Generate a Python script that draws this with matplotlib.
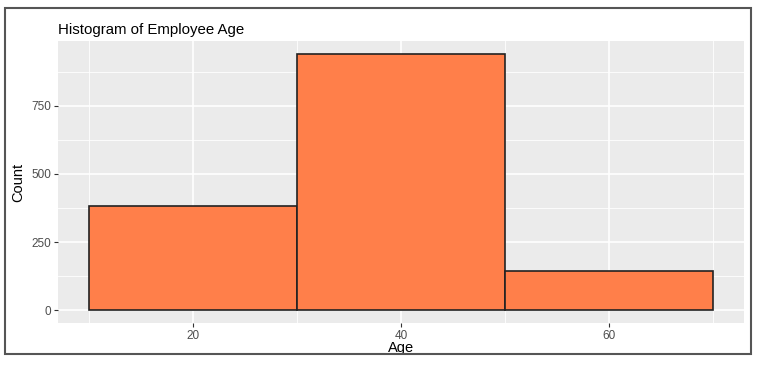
import matplotlib.pyplot as plt
from matplotlib.patches import Rectangle

plt.rcParams['font.family'] = ['Liberation Sans', 'DejaVu Sans']

# Histogram bins (age) and counts
bin_edges = [10, 30, 50, 70]
counts = [384, 940, 143]
x_ticks = [20, 40, 60]
y_ticks = [0, 250, 500, 750]

fig = plt.figure(figsize=(7.57, 3.67), dpi=100)
ax = fig.add_axes([58 / 757, 44 / 367, 686 / 757, 282 / 367])

ax.set_facecolor('#EBEBEB')
lefts = bin_edges[:-1]
widths = [b - a for a, b in zip(bin_edges[:-1], bin_edges[1:])]
ax.bar(lefts, counts, width=widths, align='edge', color='#FF7F4A',
       edgecolor='#222222', linewidth=1.2, zorder=3)

ax.set_xlim(7, 73)
ax.set_ylim(-47, 988)
ax.set_xticks(x_ticks)
ax.set_yticks(y_ticks)
ax.set_xticks([10, 30, 50, 70], minor=True)
ax.set_yticks([125, 375, 625, 875], minor=True)
ax.grid(which='major', color='white', linewidth=1.2, zorder=0)
ax.grid(which='minor', color='white', linewidth=0.6, zorder=0)
ax.set_axisbelow(True)
for s in ax.spines.values():
    s.set_visible(False)
ax.tick_params(which='major', length=3, color='#333333', labelcolor='#4D4D4D',
               labelsize=8.5, pad=2)
ax.tick_params(which='minor', length=0)

ax.set_xlabel('Age', fontsize=10.5, labelpad=-1)
ax.set_ylabel('Count', fontsize=10.5, labelpad=4,
              family=['Liberation Sans Narrow', 'Liberation Sans'])
ax.set_title('Histogram of Employee Age', loc='left', fontsize=10.8, pad=5, x=0)

# outer frame around the image
fig.patches.append(Rectangle((5 / 757, 13 / 367), 746 / 757, 346 / 367,
                             transform=fig.transFigure, fill=False,
                             edgecolor='#555555', linewidth=1.5))

fig.savefig('out.png', dpi=100)
